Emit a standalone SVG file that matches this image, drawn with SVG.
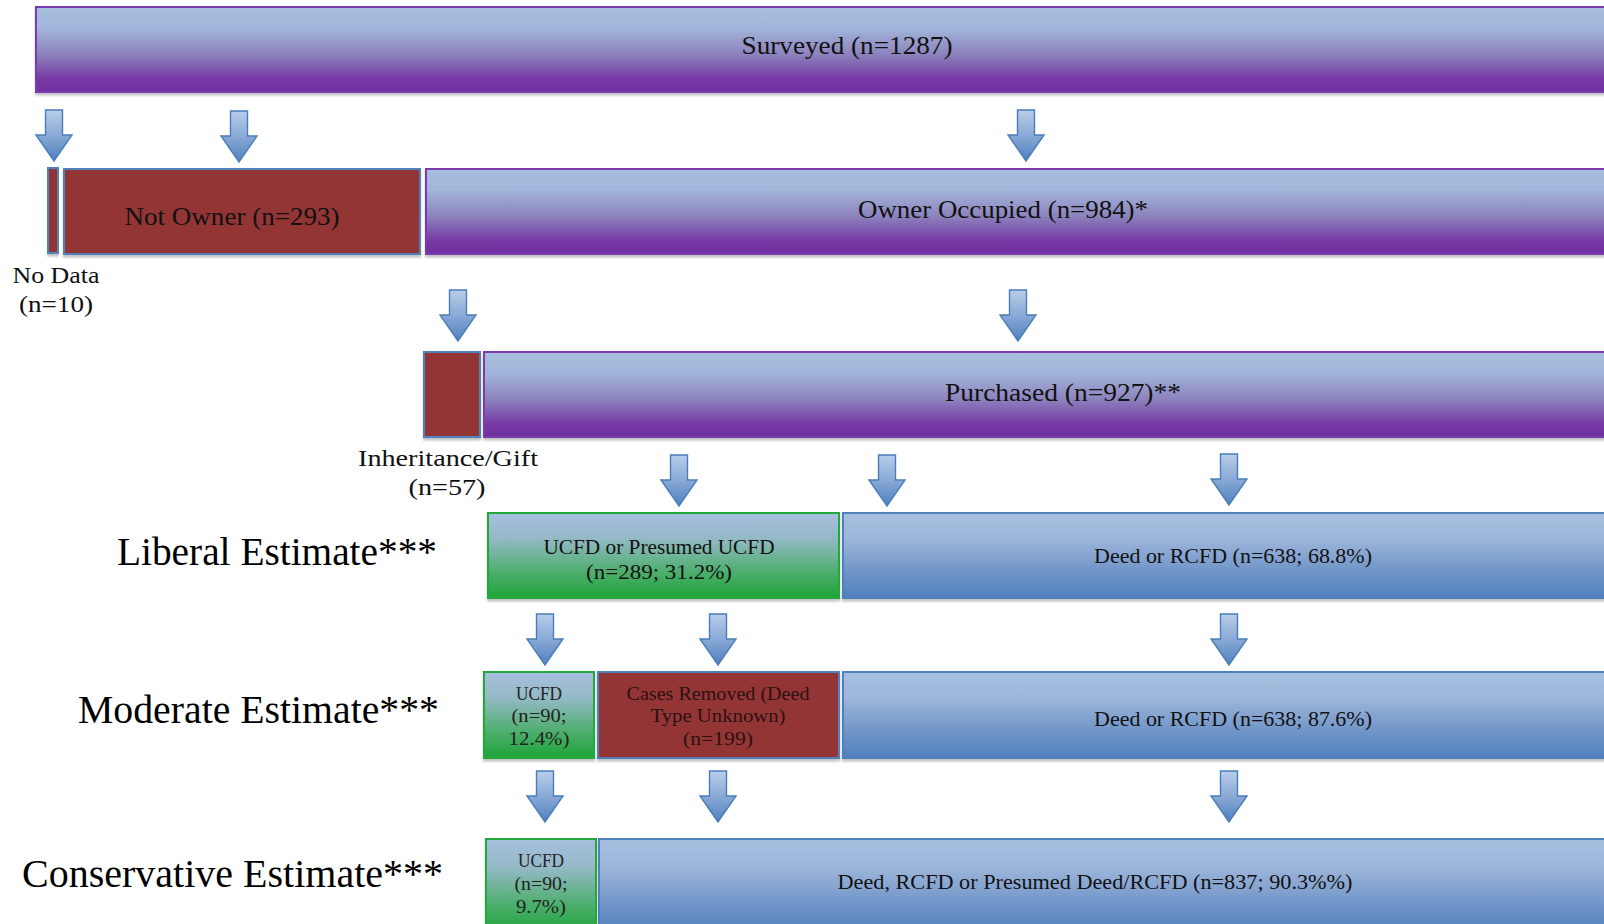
<svg xmlns="http://www.w3.org/2000/svg" xmlns:xlink="http://www.w3.org/1999/xlink" width="1604" height="924" viewBox="0 0 1604 924">
<defs>
  <linearGradient id="gPurple" x1="0" y1="0" x2="0" y2="1">
    <stop offset="0" stop-color="#a7bfdf"/>
    <stop offset="0.25" stop-color="#a2b5da"/>
    <stop offset="0.55" stop-color="#8d84be"/>
    <stop offset="0.85" stop-color="#7538a4"/>
    <stop offset="1" stop-color="#7030a0"/>
  </linearGradient>
  <linearGradient id="gBlue" x1="0" y1="0" x2="0" y2="1">
    <stop offset="0" stop-color="#a7bfdf"/>
    <stop offset="0.3" stop-color="#9db5da"/>
    <stop offset="0.7" stop-color="#6f94c8"/>
    <stop offset="1" stop-color="#5080bd"/>
  </linearGradient>
  <linearGradient id="gGreen" x1="0" y1="0" x2="0" y2="1">
    <stop offset="0" stop-color="#a7bfdf"/>
    <stop offset="0.3" stop-color="#94b9c6"/>
    <stop offset="0.7" stop-color="#4cae6c"/>
    <stop offset="1" stop-color="#1ea438"/>
  </linearGradient>
  <linearGradient id="gArrow" x1="0" y1="0" x2="0" y2="1">
    <stop offset="0" stop-color="#b9cde9"/>
    <stop offset="0.5" stop-color="#89a9d6"/>
    <stop offset="1" stop-color="#4f80bd"/>
  </linearGradient>
  <filter id="sh" x="-0.02" y="-0.1" width="1.04" height="1.3">
    <feDropShadow dx="0" dy="2.5" stdDeviation="1.2" flood-color="#777" flood-opacity="0.45"/>
  </filter>
  <path id="arrow" d="M-8.5,0 H8.5 V25 H18 L0,51 L-18,25 H-8.5 Z" fill="url(#gArrow)" stroke="#4a7dbb" stroke-width="1.4" stroke-linejoin="miter"/>
  <style>
    .purple { fill: url(#gPurple); stroke: #7a3aad; stroke-width: 2; filter: url(#sh); }
    .blue { fill: url(#gBlue); stroke: #4f81bd; stroke-width: 2; filter: url(#sh); }
    .green { fill: url(#gGreen); stroke: #22a83a; stroke-width: 2; filter: url(#sh); }
    .red { fill: #943634; stroke: #4f81bd; stroke-width: 2; filter: url(#sh); }
    text { font-family: "Liberation Serif", "Times New Roman", serif; fill: #111; text-anchor: middle; }
    .big { font-size: 25px; }
    .lbl { font-size: 23px; }
    .est { font-size: 39px; text-anchor: start; fill: #000; }
    .mid { font-size: 22px; }
    .sm { font-size: 19px; fill: #222; }
    .red-t { font-size: 19px; fill: #2a1111; }
  </style>
</defs>

<g id="connectors">
  <use href="#arrow" x="54" y="110"/>
  <use href="#arrow" x="239" y="111"/>
  <use href="#arrow" x="1026" y="110"/>
  <use href="#arrow" x="458" y="290"/>
  <use href="#arrow" x="1018" y="290"/>
  <use href="#arrow" x="679" y="455"/>
  <use href="#arrow" x="887" y="455"/>
  <use href="#arrow" x="1229" y="454"/>
  <use href="#arrow" x="545" y="614"/>
  <use href="#arrow" x="718" y="614"/>
  <use href="#arrow" x="1229" y="614"/>
  <use href="#arrow" x="545" y="771"/>
  <use href="#arrow" x="718" y="771"/>
  <use href="#arrow" x="1229" y="771"/>
</g>

<g id="surveyed">
  <rect class="purple" x="36" y="7" width="1590" height="85"/>
  <text class="big" x="847" y="54" textLength="211" lengthAdjust="spacingAndGlyphs">Surveyed (n=1287)</text>
</g>

<g id="no-data">
  <rect class="red" x="48" y="168" width="10" height="85"/>
  <text class="lbl" x="56" y="283" textLength="87" lengthAdjust="spacingAndGlyphs">No Data</text>
  <text class="lbl" x="56" y="312" textLength="74" lengthAdjust="spacingAndGlyphs">(n=10)</text>
</g>

<g id="not-owner">
  <rect class="red" x="64" y="169" width="356" height="85"/>
  <text class="big" x="232" y="225" textLength="215" lengthAdjust="spacingAndGlyphs">Not Owner (n=293)</text>
</g>

<g id="owner-occupied">
  <rect class="purple" x="426" y="169" width="1200" height="85"/>
  <text class="big" x="1003" y="218" textLength="290" lengthAdjust="spacingAndGlyphs">Owner Occupied (n=984)*</text>
</g>

<g id="inheritance">
  <rect class="red" x="424" y="352" width="56" height="85"/>
  <text class="lbl" x="448" y="466" textLength="180" lengthAdjust="spacingAndGlyphs">Inheritance/Gift</text>
  <text class="lbl" x="447" y="495" textLength="77" lengthAdjust="spacingAndGlyphs">(n=57)</text>
</g>

<g id="purchased">
  <rect class="purple" x="484" y="352" width="1142" height="85"/>
  <text class="big" x="1063" y="401" textLength="236" lengthAdjust="spacingAndGlyphs">Purchased (n=927)**</text>
</g>

<g id="liberal-label">
  <text class="est" x="117" y="565" textLength="320" lengthAdjust="spacingAndGlyphs">Liberal Estimate***</text>
</g>

<g id="liberal-ucfd">
  <rect class="green" x="488" y="513" width="351" height="85"/>
  <text class="mid" x="659" y="554" textLength="231" lengthAdjust="spacingAndGlyphs">UCFD or Presumed UCFD</text>
  <text class="mid" x="659" y="579" textLength="146" lengthAdjust="spacingAndGlyphs">(n=289; 31.2%)</text>
</g>

<g id="liberal-deed">
  <rect class="blue" x="843" y="513" width="783" height="85"/>
  <text class="mid" x="1233" y="563" textLength="278" lengthAdjust="spacingAndGlyphs">Deed or RCFD (n=638; 68.8%)</text>
</g>

<g id="moderate-label">
  <text class="est" x="78" y="723" textLength="361" lengthAdjust="spacingAndGlyphs">Moderate Estimate***</text>
</g>

<g id="moderate-ucfd">
  <rect class="green" x="484" y="672" width="110" height="86"/>
  <text class="sm" x="539" y="700" textLength="46" lengthAdjust="spacingAndGlyphs">UCFD</text>
  <text class="sm" x="539" y="722" textLength="55" lengthAdjust="spacingAndGlyphs">(n=90;</text>
  <text class="sm" x="539" y="745" textLength="61" lengthAdjust="spacingAndGlyphs">12.4%)</text>
</g>

<g id="cases-removed">
  <rect class="red" x="598" y="672" width="241" height="86"/>
  <text class="red-t" x="718" y="700" textLength="183" lengthAdjust="spacingAndGlyphs">Cases Removed (Deed</text>
  <text class="red-t" x="718" y="722" textLength="135" lengthAdjust="spacingAndGlyphs">Type Unknown)</text>
  <text class="red-t" x="718" y="745" textLength="70" lengthAdjust="spacingAndGlyphs">(n=199)</text>
</g>

<g id="moderate-deed">
  <rect class="blue" x="843" y="672" width="783" height="86"/>
  <text class="mid" x="1233" y="726" textLength="278" lengthAdjust="spacingAndGlyphs">Deed or RCFD (n=638; 87.6%)</text>
</g>

<g id="conservative-label">
  <text class="est" x="22" y="887" textLength="421" lengthAdjust="spacingAndGlyphs">Conservative Estimate***</text>
</g>

<g id="conservative-ucfd">
  <rect class="green" x="486" y="839" width="110" height="95"/>
  <text class="sm" x="541" y="867" textLength="46" lengthAdjust="spacingAndGlyphs">UCFD</text>
  <text class="sm" x="541" y="890" textLength="53" lengthAdjust="spacingAndGlyphs">(n=90;</text>
  <text class="sm" x="541" y="913" textLength="50" lengthAdjust="spacingAndGlyphs">9.7%)</text>
</g>

<g id="conservative-deed">
  <rect class="blue" x="599" y="839" width="1027" height="95"/>
  <text class="mid" x="1095" y="889" textLength="515" lengthAdjust="spacingAndGlyphs">Deed, RCFD or Presumed Deed/RCFD (n=837; 90.3%%)</text>
</g>
</svg>
